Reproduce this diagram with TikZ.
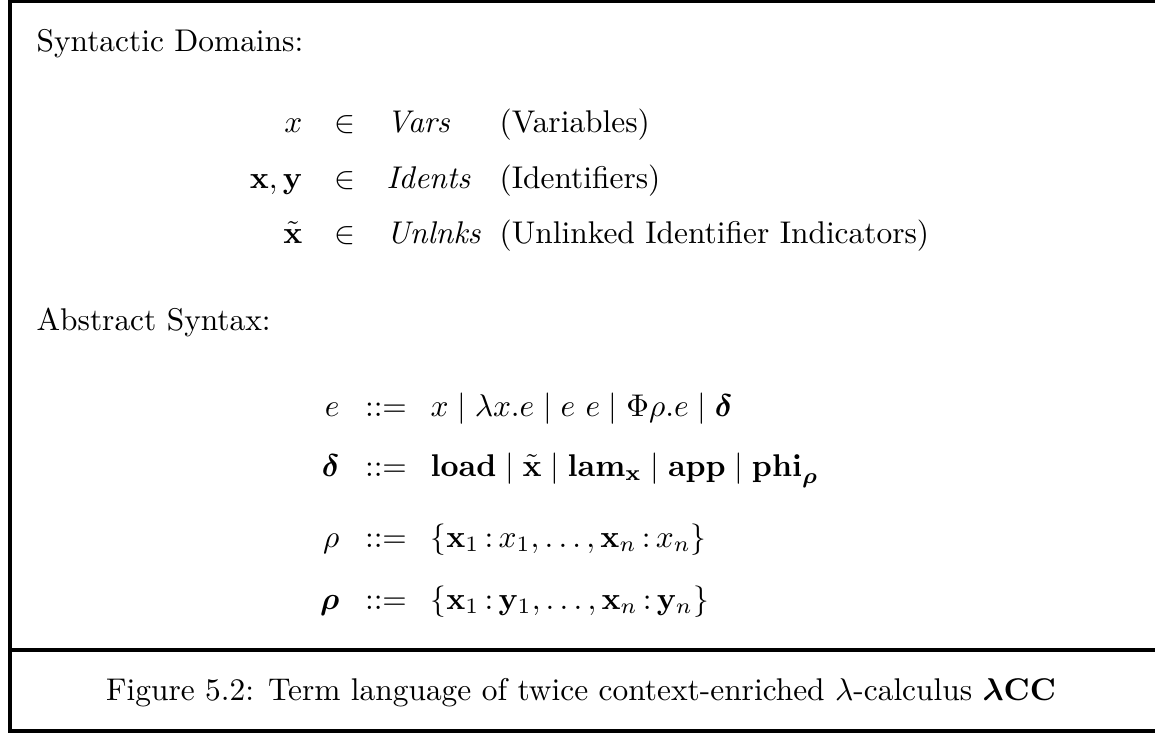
\documentclass[tikz,border=0pt]{standalone}
\usepackage{amsmath,amssymb,bm}
\begin{document}
\begin{tikzpicture}[x=0.31847pt,y=-0.31847pt,
  frameline/.style={line width=1.15pt},
  txt/.style={inner sep=0pt,anchor=base west},
  lhs/.style={inner sep=0pt,anchor=base east},
  mid/.style={inner sep=0pt,anchor=base}]
\useasboundingbox (0,0) rectangle (1155,734);
% frame
\coordinate (tl) at (10,1.6);
\coordinate (tr) at (1158,1.6);
\coordinate (bl) at (10,731);
\coordinate (br) at (1158,731);
\coordinate (sl) at (10,650);
\coordinate (sr) at (1158,650);
\draw[frameline] (tr) -- (tl) -- (bl) -- (br);
\draw[frameline] (sl) -- (sr);
% Syntactic domains
\node[txt] (sd) at (36,52) {Syntactic Domains:};
\node[lhs] (d1l) at (303,133) {$x$};
\node[mid] (d1m) at (345,133) {$\in$};
\node[txt] (d1r) at (386,133) {$\mathit{Vars}$};
\node[txt] (d1c) at (499,133) {(Variables)};
\node[lhs] (d2l) at (303,188) {$\mathbf{x},\mathbf{y}$};
\node[mid] (d2m) at (345,188) {$\in$};
\node[txt] (d2r) at (386,188) {$\mathit{Idents}$};
\node[txt] (d2c) at (499,188) {(Identifiers)};
\node[lhs] (d3l) at (303,243) {$\tilde{\mathbf{x}}$};
\node[mid] (d3m) at (345,243) {$\in$};
\node[txt] (d3r) at (386,243) {$\mathit{Unlnks}$};
\node[txt] (d3c) at (499,243) {(Unlinked Identifier Indicators)};
% Abstract syntax
\node[txt] (as) at (36,330) {Abstract Syntax:};
\node[lhs] (s1l) at (340,416) {$e$};
\node[mid] (s1m) at (386,416) {$::=$};
\node[txt] (s1r) at (430,416) {$x \mid \lambda x.e \mid e\ e \mid \Phi\rho.e \mid \bm{\delta}$};
\node[lhs] (s2l) at (340,476) {$\bm{\delta}$};
\node[mid] (s2m) at (386,476) {$::=$};
\node[txt] (s2r) at (430,476) {$\mathbf{load} \mid \tilde{\mathbf{x}} \mid \mathbf{lam}_{\mathbf{x}} \mid \mathbf{app} \mid \mathbf{phi}_{\bm{\rho}}$};
\node[lhs] (s3l) at (340,547) {$\rho$};
\node[mid] (s3m) at (386,547) {$::=$};
\node[txt] (s3r) at (430,547) {$\{\mathbf{x}_1\,{:}\,x_1,\ldots,\mathbf{x}_n\,{:}\,x_n\}$};
\node[lhs] (s4l) at (340,609) {$\bm{\rho}$};
\node[mid] (s4m) at (386,609) {$::=$};
\node[txt] (s4r) at (430,609) {$\{\mathbf{x}_1\,{:}\,\mathbf{y}_1,\ldots,\mathbf{x}_n\,{:}\,\mathbf{y}_n\}$};
% caption
\node[mid] (cap) at (581,700) {Figure 5.2: Term language of twice context-enriched $\lambda$-calculus $\bm{\lambda}\mathbf{CC}$};
\end{tikzpicture}
\end{document}
